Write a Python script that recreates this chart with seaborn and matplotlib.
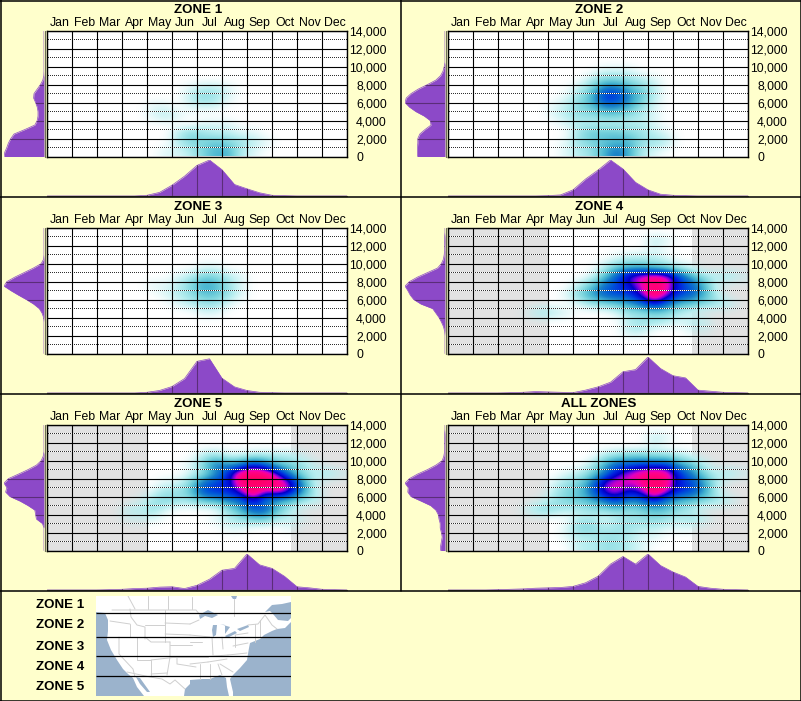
import numpy as np
import matplotlib
matplotlib.use('Agg')
import matplotlib.pyplot as plt
import seaborn as sns
from matplotlib.colors import LinearSegmentedColormap, to_rgba

MONTHS = ['Jan', 'Feb', 'Mar', 'Apr', 'May', 'Jun', 'Jul', 'Aug', 'Sep', 'Oct', 'Nov', 'Dec']
ELEV_TICKS = [0, 2000, 4000, 6000, 8000, 10000, 12000, 14000]
ELEV_LABELS = ['0', '2,000', '4,000', '6,000', '8,000', '10,000', '12,000', '14,000']
MAP_LABELS = ['ZONE 1', 'ZONE 2', 'ZONE 3', 'ZONE 4', 'ZONE 5']

# half month columns, 1000 ft rows from 13500 down to 500
GRID_1 = [
    [0] * 24, [0] * 24, [0] * 24, [0] * 24, [0] * 24, [0] * 24,
    [0, 0, 0, 0, 0, 0, 0, 0, 0, 0, 0, 1, 2, 2, 1, 0, 0, 0, 0, 0, 0, 0, 0, 0],
    [0, 0, 0, 0, 0, 0, 0, 0, 0, 0, 0, 2, 4, 3, 1, 0, 0, 0, 0, 0, 0, 0, 0, 0],
    [0, 0, 0, 0, 0, 0, 0, 0, 1, 1, 0, 1, 1, 1, 0, 0, 0, 0, 0, 0, 0, 0, 0, 0],
    [0, 0, 0, 0, 0, 0, 0, 0, 1, 2, 1, 0, 0, 0, 0, 0, 0, 0, 0, 0, 0, 0, 0, 0],
    [0, 0, 0, 0, 0, 0, 0, 0, 0, 0, 0, 0, 1, 1, 1, 0, 0, 0, 0, 0, 0, 0, 0, 0],
    [0, 0, 0, 0, 0, 0, 0, 0, 0, 0, 2, 4, 3, 2, 2, 1, 1, 0, 0, 0, 0, 0, 0, 0],
    [0, 0, 0, 0, 0, 0, 0, 0, 0, 0, 2, 4, 4, 5, 4, 3, 2, 1, 0, 0, 0, 0, 0, 0],
    [0, 0, 0, 0, 0, 0, 0, 0, 0, 1, 1, 2, 4, 6, 6, 2, 1, 0, 0, 0, 0, 0, 0, 0],
]
GRID_2 = [
    [0] * 24, [0] * 24, [0] * 24, [0] * 24,
    [0, 0, 0, 0, 0, 0, 0, 0, 0, 0, 0, 0, 1, 1, 1, 0, 0, 0, 0, 0, 0, 0, 0, 0],
    [0, 0, 0, 0, 0, 0, 0, 0, 0, 0, 0, 2, 4, 4, 3, 2, 1, 0, 0, 0, 0, 0, 0, 0],
    [0, 0, 0, 0, 0, 0, 0, 0, 0, 0, 2, 4, 9, 9, 6, 4, 2, 0, 0, 0, 0, 0, 0, 0],
    [0, 0, 0, 0, 0, 0, 0, 0, 0, 1, 3, 6, 12, 12, 8, 5, 2, 0, 0, 0, 0, 0, 0, 0],
    [0, 0, 0, 0, 0, 0, 0, 0, 1, 2, 4, 5, 8, 8, 6, 3, 1, 0, 0, 0, 0, 0, 0, 0],
    [0, 0, 0, 0, 0, 0, 0, 0, 1, 2, 3, 3, 4, 4, 3, 2, 1, 0, 0, 0, 0, 0, 0, 0],
    [0, 0, 0, 0, 0, 0, 0, 0, 0, 1, 2, 2, 2, 2, 2, 2, 1, 0, 0, 0, 0, 0, 0, 0],
    [0, 0, 0, 0, 0, 0, 0, 0, 0, 0, 3, 5, 5, 5, 4, 3, 2, 1, 0, 0, 0, 0, 0, 0],
    [0, 0, 0, 0, 0, 0, 0, 0, 0, 1, 3, 4, 5, 6, 6, 3, 3, 2, 0, 0, 0, 0, 0, 0],
    [0, 0, 0, 0, 0, 0, 0, 0, 0, 1, 2, 3, 6, 9, 6, 2, 1, 0, 0, 0, 0, 0, 0, 0],
]
GRID_3 = [
    [0] * 24, [0] * 24, [0] * 24, [0] * 24,
    [0, 0, 0, 0, 0, 0, 0, 0, 0, 0, 0, 0, 1, 1, 0, 0, 0, 0, 0, 0, 0, 0, 0, 0],
    [0, 0, 0, 0, 0, 0, 0, 0, 0, 0, 1, 2, 4, 4, 2, 1, 0, 0, 0, 0, 0, 0, 0, 0],
    [0, 0, 0, 0, 0, 0, 0, 0, 1, 1, 2, 4, 7, 6, 3, 1, 0, 0, 0, 0, 0, 0, 0, 0],
    [0, 0, 0, 0, 0, 0, 0, 0, 0, 1, 2, 3, 5, 5, 3, 1, 0, 0, 0, 0, 0, 0, 0, 0],
    [0, 0, 0, 0, 0, 0, 0, 0, 0, 0, 1, 2, 3, 3, 1, 0, 0, 0, 0, 0, 0, 0, 0, 0],
    [0, 0, 0, 0, 0, 0, 0, 0, 0, 0, 0, 0, 1, 1, 0, 0, 0, 0, 0, 0, 0, 0, 0, 0],
    [0] * 24, [0] * 24, [0] * 24, [0] * 24,
]
GRID_4 = [
    [0] * 24,
    [0, 0, 0, 0, 0, 0, 0, 0, 0, 0, 0, 0, 0, 0, 0, 0, 2, 1, 0, 0, 0, 0, 0, 0],
    [0, 0, 0, 0, 0, 0, 0, 0, 0, 0, 0, 0, 0, 0, 0, 0, 1, 0, 0, 0, 0, 0, 0, 0],
    [0, 0, 0, 0, 0, 0, 0, 0, 0, 0, 0, 0, 0, 1, 2, 2, 2, 1, 0, 0, 0, 0, 0, 0],
    [0, 0, 0, 0, 0, 0, 0, 0, 0, 0, 0, 0, 2, 5, 6, 6, 5, 4, 2, 1, 0, 0, 0, 0],
    [0, 0, 0, 0, 0, 0, 0, 0, 0, 0, 0, 1, 5, 10, 15, 17, 18, 17, 11, 6, 3, 2, 3, 1],
    [0, 0, 0, 0, 0, 0, 0, 0, 0, 0, 2, 5, 9, 11, 13, 16, 20, 17, 12, 10, 6, 1, 0, 0],
    [0, 0, 0, 0, 0, 0, 0, 0, 0, 1, 4, 7, 10, 11, 11, 15, 20, 16, 11, 10, 6, 2, 0, 0],
    [0, 0, 0, 0, 0, 0, 0, 0, 0, 0, 1, 3, 4, 5, 7, 9, 14, 9, 6, 5, 4, 3, 2, 0],
    [0, 0, 0, 0, 0, 0, 1, 3, 2, 1, 0, 0, 0, 1, 3, 3, 4, 4, 2, 1, 0, 0, 0, 0],
    [0, 0, 0, 0, 0, 0, 0, 0, 0, 0, 0, 0, 0, 0, 2, 3, 3, 2, 1, 2, 2, 0, 0, 0],
    [0, 0, 0, 0, 0, 0, 0, 0, 0, 0, 0, 0, 0, 0, 2, 2, 0, 0, 0, 1, 1, 0, 0, 0],
    [0] * 24, [0] * 24,
]
GRID_5 = [
    [0] * 24, [0] * 24, [0] * 24,
    [0, 0, 0, 0, 0, 0, 0, 0, 0, 0, 0, 0, 2, 3, 1, 1, 2, 2, 2, 2, 1, 0, 0, 0],
    [0, 0, 0, 0, 0, 0, 0, 0, 0, 0, 0, 1, 4, 9, 7, 8, 12, 9, 5, 4, 3, 1, 0, 0],
    [0, 0, 0, 0, 0, 0, 0, 0, 0, 0, 0, 1, 3, 7, 12, 19, 20, 19, 14, 7, 3, 2, 3, 1],
    [0, 0, 0, 0, 0, 0, 0, 0, 0, 1, 1, 4, 9, 11, 12, 19, 20, 20, 19, 15, 7, 1, 0, 0],
    [0, 0, 0, 0, 0, 0, 0, 0, 1, 3, 3, 5, 11, 12, 12, 15, 20, 15, 18, 14, 7, 2, 0, 0],
    [0, 0, 0, 0, 0, 0, 0, 1, 3, 4, 3, 3, 5, 6, 8, 9, 14, 8, 6, 5, 3, 2, 0, 0],
    [0, 0, 0, 0, 0, 0, 2, 2, 3, 1, 0, 0, 0, 0, 3, 6, 10, 10, 5, 2, 0, 0, 0, 0],
    [0, 0, 0, 0, 0, 0, 1, 1, 1, 0, 0, 0, 0, 1, 2, 3, 5, 5, 2, 2, 1, 0, 0, 0],
    [0, 0, 0, 0, 0, 0, 0, 0, 0, 0, 0, 0, 0, 0, 1, 1, 0, 0, 0, 1, 0, 0, 0, 0],
    [0] * 24, [0] * 24,
]
GRID_ALL = [
    [0] * 24,
    [0, 0, 0, 0, 0, 0, 0, 0, 0, 0, 0, 0, 0, 0, 0, 0, 2, 1, 0, 0, 0, 0, 0, 0],
    [0, 0, 0, 0, 0, 0, 0, 0, 0, 0, 0, 0, 0, 0, 0, 0, 1, 0, 0, 0, 0, 0, 0, 0],
    [0, 0, 0, 0, 0, 0, 0, 0, 0, 0, 0, 0, 2, 3, 4, 4, 3, 3, 2, 1, 0, 0, 0, 0],
    [0, 0, 0, 0, 0, 0, 0, 0, 0, 0, 0, 2, 6, 10, 10, 11, 11, 11, 7, 5, 2, 0, 0, 0],
    [0, 0, 0, 0, 0, 0, 0, 0, 0, 1, 2, 4, 8, 13, 16, 18, 19, 18, 12, 8, 4, 2, 3, 1],
    [0, 0, 0, 0, 0, 0, 0, 0, 1, 3, 4, 8, 15, 17, 16, 17, 20, 18, 12, 11, 7, 2, 0, 0],
    [0, 0, 0, 0, 0, 0, 0, 0, 2, 4, 5, 9, 15, 16, 13, 15, 20, 16, 12, 11, 7, 2, 0, 0],
    [0, 0, 0, 0, 0, 0, 0, 1, 3, 4, 5, 6, 9, 12, 8, 9, 13, 8, 6, 5, 4, 3, 2, 0],
    [0, 0, 0, 0, 0, 0, 2, 4, 3, 2, 2, 3, 3, 4, 3, 4, 5, 5, 3, 2, 0, 0, 0, 0],
    [0, 0, 0, 0, 0, 0, 0, 0, 0, 0, 2, 2, 1, 2, 3, 3, 4, 3, 2, 3, 2, 0, 0, 0],
    [0, 0, 0, 0, 0, 0, 0, 0, 0, 1, 4, 4, 2, 3, 3, 2, 2, 1, 1, 1, 0, 0, 0, 0],
    [0, 0, 0, 0, 0, 0, 0, 0, 0, 1, 2, 2, 3, 3, 2, 1, 1, 0, 0, 0, 0, 0, 0, 0],
    [0, 0, 0, 0, 0, 0, 0, 0, 0, 0, 2, 2, 3, 3, 2, 1, 0, 0, 0, 0, 0, 0, 0, 0],
]

# share of the peak at each half month
MONTH_1 = [0, 0, 0, 0, 0, 0, 0, 0, .02, .1, .3, .55, .85, 1, .73, .32, .2, .09, .02, .01, 0, 0, 0, 0, 0]
MONTH_2 = [0, 0, 0, 0, 0, 0, 0, 0, .01, .03, .17, .47, .72, 1, .75, .38, .17, .05, .02, .01, 0, 0, 0, 0, 0]
MONTH_3 = [0, 0, 0, 0, 0, 0, 0, 0, .02, .07, .18, .4, .88, .95, .41, .17, .07, .02, .01, 0, 0, 0, 0, 0, 0]
MONTH_4 = [0, 0, 0, 0, 0, .01, .02, .04, .03, .02, .01, .08, .17, .3, .59, .65, 1, .68, .48, .42, .08, .05, .02, .01, 0]
MONTH_5 = [0, 0, 0, 0, 0, .01, .02, .04, .05, .08, .09, .04, .13, .3, .55, .6, 1, .7, .6, .38, .09, .06, .02, .01, 0]
MONTH_ALL = [0, 0, 0, 0, .01, .02, .03, .05, .06, .07, .1, .2, .38, .72, .93, .72, 1, .68, .5, .36, .1, .05, .02, .01, 0]

# share of the peak at each 500 ft, from 0 up to 14000
ELEV_1 = [1, .98, .93, .89, .83, .75, .48, .23, .17, .15, .15, .17, .21, .26, .25, .17, .09, .03, .005, 0, 0, 0, 0, 0, 0, 0, 0, 0, 0]
ELEV_2 = [.69, .69, .69, .68, .68, .63, .5, .35, .37, .52, .73, .89, 1, .97, .85, .67, .44, .23, .11, .05, .02, 0, 0, 0, 0, 0, 0, 0, 0]
ELEV_3 = [0, 0, 0, 0, 0, 0, 0, 0, .01, .05, .12, .26, .44, .64, .83, 1, .93, .73, .5, .27, .07, .01, 0, 0, 0, 0, 0, 0, 0]
ELEV_4 = [0, 0, 0, 0, 0, .01, .04, .09, .15, .23, .31, .6, .78, .87, .93, 1, .89, .69, .44, .19, .09, .04, .02, .01, .01, .015, .01, 0, 0]
ELEV_5 = [0, 0, 0, 0, 0, 0, .04, .19, .21, .23, .4, .6, .85, .96, .93, 1, .89, .64, .4, .19, .07, .02, 0, 0, 0, 0, 0, 0, 0]
ELEV_ALL = [.11, .11, .09, .07, .09, .12, .12, .15, .17, .23, .36, .6, .85, .93, .92, 1, .89, .69, .44, .23, .07, .03, .01, .01, .01, .015, .01, 0, 0]

ZONE_TITLES = ['ZONE 1', 'ZONE 2', 'ZONE 3', 'ZONE 4', 'ZONE 5', 'ALL ZONES']
ZONE_GRIDS = [GRID_1, GRID_2, GRID_3, GRID_4, GRID_5, GRID_ALL]
ZONE_MONTHS = [MONTH_1, MONTH_2, MONTH_3, MONTH_4, MONTH_5, MONTH_ALL]
ZONE_ELEVS = [ELEV_1, ELEV_2, ELEV_3, ELEV_4, ELEV_5, ELEV_ALL]
ZONE_MASKED = [False, False, False, True, True, True]

# outline of the little map, in pixels of its 195x100 box
WATER = [
    [(0, 16), (9, 17), (12, 24), (12, 35), (11, 44), (15, 54), (21, 64), (27, 73), (32, 78), (37, 82), (41, 91), (48, 100), (0, 100)],
    [(40, 81), (44, 82), (49, 89), (54, 96), (51, 96), (44, 88)],
    [(195, 26), (193, 28), (189, 32), (181, 33), (176, 35), (168, 39), (164, 43), (159, 45), (154, 47), (153, 52), (151, 64),
     (144, 72), (137, 79), (134, 83), (137, 96), (137, 100), (195, 100)],
    [(133, 100), (131, 91), (130, 82), (124, 79), (114, 83), (107, 83), (94, 84), (94, 88), (89, 93), (88, 100)],
    [(195, 6), (186, 8), (176, 9), (169, 16), (174, 15), (177, 18), (182, 24), (192, 25), (195, 22)],
    [(135, 0), (141, 0), (140, 3), (137, 3)],
    [(103, 19), (112, 14), (122, 19), (116, 22), (109, 20), (104, 23)],
    [(117, 29), (121, 29), (120, 39), (117, 41), (116, 34)],
    [(124, 28), (134, 31), (129, 38), (129, 29)],
    [(129, 40), (139, 35), (141, 37), (131, 42)],
    [(141, 33), (152, 29), (153, 31), (144, 35)],
]
BORDERS = [
    [(16, 14), (100, 14), (104, 19)],
    [(32, 0), (39, 13)], [(52, 0), (52, 13)], [(72, 0), (72, 13)], [(96, 1), (96, 13)], [(138, 3), (138, 20)],
    [(14, 25), (34, 28)], [(34, 13), (35, 21), (41, 29), (49, 31), (49, 43)], [(34, 28), (34, 41)], [(12, 41), (49, 41)],
    [(23, 41), (23, 58), (37, 73), (39, 81)], [(41, 41), (41, 64), (55, 64), (55, 79)], [(49, 41), (55, 46), (74, 46)],
    [(49, 29), (69, 29)], [(69, 14), (69, 29), (69, 46)], [(69, 27), (94, 28)], [(69, 38), (94, 39)], [(74, 49), (96, 49)],
    [(74, 46), (74, 61), (71, 79)], [(55, 64), (81, 61)], [(81, 61), (81, 68), (100, 71)], [(55, 78), (71, 77)], [(74, 61), (100, 61)],
    [(31, 76), (54, 81), (66, 83), (74, 88), (79, 84), (89, 93)],
    [(94, 28), (103, 24)], [(94, 39), (114, 41)], [(94, 46), (106, 46)], [(94, 61), (112, 61)], [(116, 41), (117, 59)], [(126, 41), (127, 53)],
    [(139, 39), (139, 51)], [(139, 39), (152, 37)], [(137, 50), (152, 47)], [(106, 61), (132, 59)], [(132, 59), (151, 57)],
    [(112, 66), (131, 63)], [(124, 68), (137, 76)], [(122, 68), (126, 79)], [(114, 68), (114, 83)], [(104, 68), (104, 83)], [(94, 68), (112, 66)],
    [(159, 28), (159, 46)], [(164, 24), (164, 41)], [(152, 29), (162, 28), (169, 19), (176, 29), (181, 33)],
]
ZONE_LINES = [17, 41, 60, 80]

BACK = '#ffffcc'
FILL = '#8c49c8'
INNER = '#5a2d78'
AXIS_GREY = '#6e6e58'
WATER_BLUE = '#9bb3cc'
MASK_GREY = '#e2e2e2'
SANS = 'Liberation Sans'
W, H = 801, 701

sns.set_style('white')
plt.rcParams['font.family'] = [SANS, 'DejaVu Sans']
plt.rcParams['font.size'] = 8.8

density_cmap = LinearSegmentedColormap.from_list('density', [
    (0.0, to_rgba('#b8eef0', 0)),
    (0.1, to_rgba('#b8eef0', 1)),
    (0.2, to_rgba('#7ed6de')),
    (0.3, to_rgba('#46b4d0')),
    (0.4, to_rgba('#1880c8')),
    (0.5, to_rgba('#0058d8')),
    (0.6, to_rgba('#0020e0')),
    (0.68, to_rgba('#0000c8')),
    (0.74, to_rgba('#7000e0')),
    (0.8, to_rgba('#e000c0')),
    (0.86, to_rgba('#ff0090')),
    (1.0, to_rgba('#ff0060')),
], N=512)


def add_box(fig, x, y, w, h):
    return fig.add_axes([x / W, 1 - (y + h) / H, w / W, h / H])


def clear_axes(ax):
    ax.set_xticks([])
    ax.set_yticks([])
    for spine in ax.spines.values():
        spine.set_visible(False)


def draw_dots(ax, start, color):
    # one pixel dots, 300 px wide box so 25 px is a month
    xs = (np.arange(start, 300, 2) + 0.5) / 25
    for elev in range(1000, 14000, 2000):
        ax.plot(xs, np.full(len(xs), elev), ls='', marker=',', color=color, zorder=3)


def draw_density(ax, grid, masked):
    ax.set_facecolor('white')
    if masked:
        ax.axvspan(0, 4, color=MASK_GREY, lw=0)
        ax.axvspan(9.75, 12, color=MASK_GREY, lw=0)
    ax.imshow(np.array(grid), cmap=density_cmap, vmin=0, vmax=20, aspect='auto', origin='upper',
              extent=(0, 12, 0, 14000), interpolation='bicubic', interpolation_stage='data', zorder=2)
    draw_dots(ax, 0, '#303030')
    draw_dots(ax, 1, 'white')
    ax.set_xlim(0, 12)
    ax.set_ylim(0, 14000)
    ax.hlines(ELEV_TICKS, 0, 12, colors='black', lw=0.8, zorder=4)
    ax.vlines(np.arange(13), 0, 14000, colors='black', lw=0.8, zorder=4)

    ax.xaxis.tick_top()
    ax.set_xticks(np.arange(12) + 0.5, MONTHS)
    ax.yaxis.tick_right()
    ax.set_yticks(ELEV_TICKS, ELEV_LABELS)
    ax.tick_params(axis='both', length=0, colors='black', labelsize=8.8)
    ax.tick_params(axis='x', pad=1.5)
    for tick, label in zip(ax.yaxis.get_major_ticks(), ELEV_LABELS):
        tick.set_pad(1.5 if len(label) == 6 else 6.5)
    for spine in ax.spines.values():
        spine.set_linewidth(1.0)
        spine.set_color('black')
        spine.set_zorder(5)


def draw_month_margin(ax, values):
    steps = np.arange(25) / 2
    sns.lineplot(x=steps, y=values, ax=ax, color=FILL, lw=0.5, legend=False)
    poly = ax.fill_between(steps, 0, values, color=FILL, lw=0)
    ax.set_xlim(0, 12)
    ax.set_ylim(0, 1)
    lines = ax.vlines(np.arange(1, 12), 0, 1, colors=INNER, lw=0.8)
    lines.set_clip_path(poly.get_paths()[0], poly.get_transform())
    clear_axes(ax)
    ax.patch.set_visible(False)
    ax.set_xlabel('')
    ax.set_ylabel('')


def draw_elev_margin(ax, values):
    steps = np.arange(29) * 500
    sns.lineplot(x=values, y=steps, ax=ax, color=FILL, lw=0.5, orient='y', legend=False)
    poly = ax.fill_betweenx(steps, 0, values, color=FILL, lw=0)
    ax.set_xlim(1, 0)
    ax.set_ylim(0, 14000)
    lines = ax.hlines(ELEV_TICKS[1:-1], 0, 1, colors=INNER, lw=0.8)
    lines.set_clip_path(poly.get_paths()[0], poly.get_transform())
    clear_axes(ax)
    ax.patch.set_visible(False)
    ax.set_xlabel('')
    ax.set_ylabel('')


def draw_panel(fig, frame, index):
    off_x = 401 * (index % 2)
    off_y = 197 * (index // 2)
    frame.text(off_x + 198, off_y + 10, ZONE_TITLES[index], ha='center', va='center',
               fontsize=9.6, fontweight='bold', color='black')
    draw_density(add_box(fig, off_x + 47, off_y + 30.7, 300, 125.8), ZONE_GRIDS[index], ZONE_MASKED[index])
    draw_elev_margin(add_box(fig, off_x + 4, off_y + 30.7, 40, 125.8), ZONE_ELEVS[index])
    draw_month_margin(add_box(fig, off_x + 47, off_y + 160, 300, 36), ZONE_MONTHS[index])
    frame.plot([off_x + 44.5, off_x + 44.5], [off_y + 30.7, off_y + 156.5], color=AXIS_GREY, lw=0.9)
    frame.plot([off_x + 47, off_x + 347], [off_y + 196, off_y + 196], color=AXIS_GREY, lw=0.9)


def draw_map(fig):
    ax = add_box(fig, 96, 596, 195, 100)
    ax.set_facecolor('white')
    for shape in WATER:
        ax.fill(*zip(*shape), color=WATER_BLUE, lw=0)
    for line in BORDERS:
        ax.plot(*zip(*line), color='#cfcfcf', lw=0.7)
    ax.hlines(ZONE_LINES, 0, 195, colors='black', lw=0.9)
    ax.set_xlim(0, 195)
    ax.set_ylim(100, 0)
    clear_axes(ax)


def main():
    fig = plt.figure(figsize=(W / 100, H / 100), dpi=100, facecolor=BACK)
    frame = fig.add_axes([0, 0, 1, 1], zorder=10)
    frame.set_xlim(0, W)
    frame.set_ylim(H, 0)
    frame.axis('off')
    frame.patch.set_visible(False)

    for index in range(6):
        draw_panel(fig, frame, index)
    draw_map(fig)

    for y in [0.5, 197, 394, 590.5, 700.5]:
        frame.plot([0, W], [y, y], color='black', lw=1.1)
    frame.plot([0.5, 0.5], [0, H], color='black', lw=1.1)
    frame.plot([800.5, 800.5], [0, H], color='black', lw=1.1)
    frame.plot([400.5, 400.5], [0, 590.5], color='black', lw=1.1)

    for label, y in zip(MAP_LABELS, [605.5, 625.5, 647, 666.5, 686.5]):
        frame.text(36, y, label, ha='left', va='center', fontsize=9.6, fontweight='bold', color='black')

    fig.savefig('out.png', dpi=100, facecolor=BACK)


if __name__ == '__main__':
    main()
